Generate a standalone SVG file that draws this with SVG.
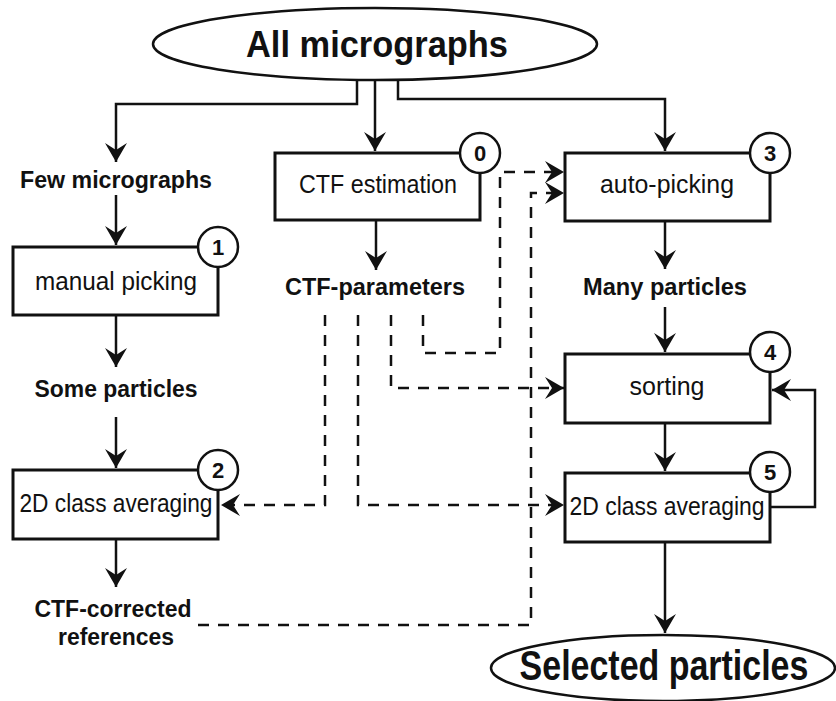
<svg xmlns="http://www.w3.org/2000/svg" width="836" height="701" viewBox="0 0 836 701">
<style>
  .bg { fill: #ffffff; }
  .box { fill: #ffffff; stroke: #111111; stroke-width: 3; }
  .oval { fill: #ffffff; stroke: #111111; stroke-width: 2.5; }
  .badge { fill: #ffffff; stroke: #111111; stroke-width: 2.5; }
  .t { font-family: "Liberation Sans", Arial, sans-serif; fill: #111111; text-anchor: middle; }
  .reg { font-size: 25px; }
  .lbl { font-size: 23px; font-weight: bold; }
  .head { font-weight: bold; }
  .num { font-size: 22px; font-weight: bold; }
  .edge { fill: none; stroke: #111111; stroke-width: 2.5; }
  .dash { fill: none; stroke: #111111; stroke-width: 2.5; stroke-dasharray: 11 9; }
</style>
<defs>
  <marker id="arr" markerUnits="userSpaceOnUse" viewBox="-20 -12 22 24" refX="0" refY="0" markerWidth="22" markerHeight="24" orient="auto">
    <path d="M0,0 L-19,-11 L-12,0 L-19,11 Z" fill="#111111"/>
  </marker>
</defs>
<rect class="bg" x="0" y="0" width="836" height="701"/>

<g id="connectors">
  <path class="edge" d="M357,80 V104 H116 V162" marker-end="url(#arr)"/>
  <path class="edge" d="M375,80 V151" marker-end="url(#arr)"/>
  <path class="edge" d="M398,80 V99 H665 V151" marker-end="url(#arr)"/>
  <path class="edge" d="M116,195 V245" marker-end="url(#arr)"/>
  <path class="edge" d="M116,316 V367" marker-end="url(#arr)"/>
  <path class="edge" d="M116,417 V468" marker-end="url(#arr)"/>
  <path class="edge" d="M116,540 V587" marker-end="url(#arr)"/>
  <path class="edge" d="M376,221 V270" marker-end="url(#arr)"/>
  <path class="edge" d="M665,221 V269" marker-end="url(#arr)"/>
  <path class="edge" d="M665,307 V352" marker-end="url(#arr)"/>
  <path class="edge" d="M665,424 V471" marker-end="url(#arr)"/>
  <path class="edge" d="M665,543 V633" marker-end="url(#arr)"/>
  <path class="edge" d="M771,507 H815 V390 H772" marker-end="url(#arr)"/>
  <path class="dash" d="M423,315 V353 H500 V172 H564" marker-end="url(#arr)"/>
  <path class="dash" d="M198,625 H531 V193 H564" marker-end="url(#arr)"/>
  <path class="dash" d="M391,315 V388 H564" marker-end="url(#arr)"/>
  <path class="dash" d="M358,315 V505 H564" marker-end="url(#arr)"/>
  <path class="dash" d="M325,315 V505 H221" marker-end="url(#arr)"/>
</g>

<g id="all-micrographs">
  <ellipse class="oval" cx="375" cy="44" rx="222" ry="36"/>
  <text class="t head" x="377" y="57" font-size="36" textLength="262" lengthAdjust="spacingAndGlyphs">All micrographs</text>
</g>

<g id="few-micrographs">
  <text class="t lbl" x="116" y="188" textLength="192" lengthAdjust="spacingAndGlyphs">Few micrographs</text>
</g>

<g id="manual-picking">
  <rect class="box" x="13" y="247" width="205" height="68"/>
  <text class="t reg" x="116" y="290" textLength="162" lengthAdjust="spacingAndGlyphs">manual picking</text>
  <circle class="badge" cx="218" cy="247" r="20"/>
  <text class="t num" x="218" y="255">1</text>
</g>

<g id="some-particles">
  <text class="t lbl" x="116" y="397" textLength="163" lengthAdjust="spacingAndGlyphs">Some particles</text>
</g>

<g id="class-avg-left">
  <rect class="box" x="13" y="470" width="205" height="69"/>
  <text class="t reg" x="116" y="512" textLength="193" lengthAdjust="spacingAndGlyphs">2D class averaging</text>
  <circle class="badge" cx="218" cy="470" r="20"/>
  <text class="t num" x="218" y="478">2</text>
</g>

<g id="ctf-corrected-references">
  <text class="t lbl" x="113" y="617" textLength="157" lengthAdjust="spacingAndGlyphs">CTF-corrected</text>
  <text class="t lbl" x="116" y="645" textLength="116" lengthAdjust="spacingAndGlyphs">references</text>
</g>

<g id="ctf-estimation">
  <rect class="box" x="275" y="153" width="205" height="67"/>
  <text class="t reg" x="378" y="193" textLength="158" lengthAdjust="spacingAndGlyphs">CTF estimation</text>
  <circle class="badge" cx="480" cy="153" r="20"/>
  <text class="t num" x="480" y="161">0</text>
</g>

<g id="ctf-parameters">
  <text class="t lbl" x="375" y="295" textLength="180" lengthAdjust="spacingAndGlyphs">CTF-parameters</text>
</g>

<g id="auto-picking">
  <rect class="box" x="565" y="153" width="205" height="68"/>
  <text class="t reg" x="667" y="193" textLength="134" lengthAdjust="spacingAndGlyphs">auto-picking</text>
  <circle class="badge" cx="770" cy="153" r="20"/>
  <text class="t num" x="770" y="161">3</text>
</g>

<g id="many-particles">
  <text class="t lbl" x="665" y="295" textLength="164" lengthAdjust="spacingAndGlyphs">Many particles</text>
</g>

<g id="sorting">
  <rect class="box" x="565" y="354" width="205" height="69"/>
  <text class="t reg" x="667" y="395" textLength="75" lengthAdjust="spacingAndGlyphs">sorting</text>
  <circle class="badge" cx="770" cy="352" r="20"/>
  <text class="t num" x="770" y="360">4</text>
</g>

<g id="class-avg-right">
  <rect class="box" x="565" y="473" width="205" height="69"/>
  <text class="t reg" x="667" y="515" textLength="195" lengthAdjust="spacingAndGlyphs">2D class averaging</text>
  <circle class="badge" cx="770" cy="472" r="20"/>
  <text class="t num" x="770" y="480">5</text>
</g>

<g id="selected-particles">
  <ellipse class="oval" cx="663" cy="668" rx="172" ry="33"/>
  <text class="t head" transform="translate(664,680) scale(0.79,1)" x="0" y="0" font-size="43">Selected particles</text>
</g>
</svg>
